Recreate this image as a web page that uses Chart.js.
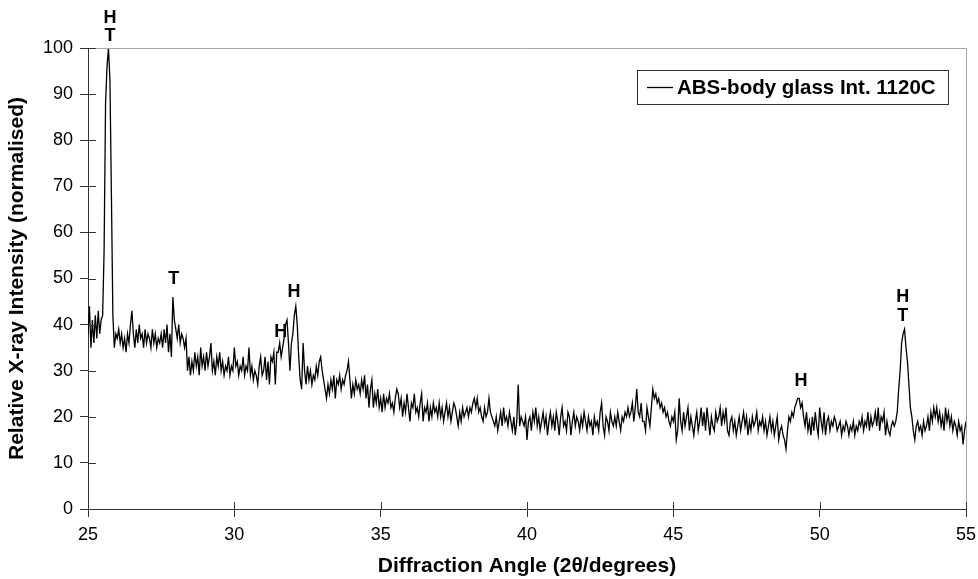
<!DOCTYPE html>
<html>
<head>
<meta charset="utf-8">
<script src="https://cdn.jsdelivr.net/npm/chart.js@4.4.1/dist/chart.umd.min.js"></script>
<style>
  html, body { margin: 0; padding: 0; background: #ffffff; }
  #wrap { width: 978px; height: 579px; }
</style>
</head>
<body>
<div id="wrap"><canvas id="c" width="978" height="579"></canvas></div>
<script>
const angleStart = 25;
const angleStep = 0.05;
const intensity25to30 = [
  38,44,35,41,36,42,37,43,38,41,42,56,88,96,100,93,68,42,35,38,
  37,39,36,38,35,37,34,38,36,40,43,38,35,39,36,40,37,38,35,39,
  36,38,37,35,39,36,38,35,37,36,38,35,39,36,40,34,38,33,46,41,
  39,37,40,36,38,37,35,37,30,33,29,32,30,34,31,33,29,35,31,33,
  30,34,31,33,36,30,32,29,33,31,34,30,32,29,31,30,33,29,31,30
];
const intensity30to35 = [
  35,31,32,29,31,30,33,29,31,30,35,29,31,28,30,29,27,31,33,29,
  30,33,28,32,27,33,32,34,27,34,34,36,33,35,37,40,41,36,30,36,
  38,42,44,40,33,28,26,36,30,27,31,28,30,27,29,28,31,29,32,33,
  30,28,26,24,27,25,28,26,29,24,28,27,29,26,28,27,29,30,32,28,
  24,27,25,28,26,27,25,28,26,29,24,27,22,26,28,22,25,23,26,22
];
const intensity35to40 = [
  24,21,25,22,24,23,25,22,23,21,24,26,25,22,24,20,23,21,25,22,
  19,23,22,25,21,22,20,23,25,19,22,21,23,19,22,20,23,21,22,20,
  23,20,22,19,21,23,20,22,19,21,23,22,20,18,21,19,22,20,21,22,
  20,22,21,23,24,22,24,21,22,20,19,22,20,21,24,21,20,19,18,20,
  17,19,21,18,22,19,20,18,21,19,17,20,16,19,27,18,20,19,18,20
];
const intensity40to45 = [
  15,19,20,17,21,19,22,18,20,17,19,21,18,20,16,19,21,18,20,17,
  21,19,16,20,22,18,19,17,21,20,16,19,21,18,20,19,17,20,18,21,
  19,17,20,18,19,16,20,18,19,17,21,23,18,16,20,19,17,21,19,18,
  20,18,21,19,17,20,19,21,20,22,20,21,23,19,22,26,21,20,23,19,
  19,17,22,20,18,22,26,24,25,23,24,22,23,21,22,20,21,19,18,20
];
const intensity45to50 = [
  19,21,15,17,24,19,17,21,18,20,22,17,20,18,16,19,21,17,19,22,
  18,21,17,22,19,16,20,18,17,21,19,20,22,18,21,19,22,17,16,19,
  20,17,19,16,18,20,17,19,21,18,20,16,19,17,20,18,19,21,17,19,
  18,20,17,19,16,18,20,17,19,16,18,20,15,17,18,16,15,13,17,20,
  19,21,20,22,23,24,24,22,23,20,18,21,17,19,16,20,17,21,18,16
];
const intensity50to55 = [
  22,19,17,21,16,19,20,17,19,18,20,19,17,18,19,16,18,17,19,18,
  16,18,17,19,16,18,17,19,18,20,17,19,18,21,17,20,18,19,21,18,
  22,17,20,19,21,16,19,17,16,18,19,18,19,21,26,30,36,38,39,35,
  32,27,22,20,17,15,18,19,17,18,16,19,17,18,20,17,21,19,22,20,
  22,19,21,18,20,17,22,19,21,18,20,17,19,18,16,19,17,18,14,17,19
];
const seriesName = 'ABS-body glass Int. 1120C';
const xTicks = [25, 30, 35, 40, 45, 50, 55];
const yTicks = [0, 10, 20, 30, 40, 50, 60, 70, 80, 90, 100];
const xTitle = 'Diffraction Angle (2\u03B8/degrees)';
const yTitle = 'Relative X-ray Intensity (normalised)';
// peak annotations
const peakLabels = ['H', 'T', 'T', 'H', 'H', 'H', 'H', 'T'];
const peakAngles = [25.75, 25.75, 27.93, 31.59, 32.04, 49.36, 52.84, 52.84];
const peakLevels = [106.5, 102.6, 49.9, 38.4, 47.1, 27.8, 46.0, 41.9];

// ---- build ----
const intensity = [].concat(intensity25to30, intensity30to35, intensity35to40,
                            intensity40to45, intensity45to50, intensity50to55);
const points = intensity.map((v, i) => ({ x: +(angleStart + i * angleStep).toFixed(2), y: v }));

const FONT = '"Liberation Sans", Arial, Helvetica, sans-serif';

const frameAndTicks = {
  id: 'frameAndTicks',
  afterDraw(chart) {
    const ctx = chart.ctx;
    const a = chart.chartArea;
    const xs = chart.scales.x, ys = chart.scales.y;
    ctx.save();
    // plot area border (top/right) in grey
    ctx.strokeStyle = '#a6a6a6';
    ctx.lineWidth = 1;
    ctx.beginPath();
    ctx.moveTo(a.left, a.top + 0.5);
    ctx.lineTo(a.right + 0.5, a.top + 0.5);
    ctx.lineTo(a.right + 0.5, a.bottom);
    ctx.stroke();
    // inner half of cross tick marks
    ctx.strokeStyle = '#333333';
    ctx.beginPath();
    yTicks.forEach(v => {
      const p = Math.round(ys.getPixelForValue(v)) + 0.5;
      ctx.moveTo(a.left, p);
      ctx.lineTo(a.left + 8, p);
    });
    xTicks.forEach(v => {
      const p = Math.round(xs.getPixelForValue(v)) + 0.5;
      ctx.moveTo(p, a.bottom);
      ctx.lineTo(p, a.bottom - 7);
    });
    ctx.stroke();
    // peak labels
    ctx.fillStyle = '#000000';
    ctx.font = 'bold 18px ' + FONT;
    ctx.textAlign = 'center';
    ctx.textBaseline = 'middle';
    peakLabels.forEach((t, i) => {
      ctx.fillText(t, xs.getPixelForValue(peakAngles[i]), ys.getPixelForValue(peakLevels[i]));
    });
    // legend box
    const bx = a.right - 329, by = a.top + 22, bw = 311, bh = 34;
    ctx.fillStyle = '#ffffff';
    ctx.fillRect(bx, by, bw, bh);
    ctx.strokeStyle = '#333333';
    ctx.lineWidth = 1;
    ctx.strokeRect(bx + 0.5, by + 0.5, bw, bh);
    const my = by + bh / 2 + 0.5;
    ctx.beginPath();
    ctx.lineWidth = 1.3;
    ctx.strokeStyle = '#000000';
    ctx.moveTo(bx + 10, my);
    ctx.lineTo(bx + 36, my);
    ctx.stroke();
    ctx.fillStyle = '#000000';
    ctx.font = 'bold 20.5px ' + FONT;
    ctx.textAlign = 'left';
    ctx.textBaseline = 'middle';
    ctx.fillText(seriesName, bx + 40, my + 1);
    ctx.restore();
  }
};

new Chart(document.getElementById('c'), {
  type: 'line',
  data: {
    datasets: [{
      label: seriesName,
      data: points,
      borderColor: '#000000',
      borderWidth: 1.3,
      pointRadius: 0,
      tension: 0,
      fill: false
    }]
  },
  options: {
    responsive: false,
    animation: false,
    devicePixelRatio: 1,
    layout: { padding: { top: 48, right: 12, left: 0, bottom: 0 } },
    plugins: { legend: { display: false }, tooltip: { enabled: false } },
    scales: {
      x: {
        type: 'linear',
        min: 25, max: 55,
        afterBuildTicks: s => { s.ticks = xTicks.map(v => ({ value: v })); },
        afterFit: s => { s.height = 70; s.paddingRight = 0; s.paddingLeft = 0; },
        grid: { drawOnChartArea: false, drawTicks: true, tickLength: 8, color: '#333333' },
        border: { display: true, color: '#333333', width: 1 },
        ticks: { color: '#000000', font: { family: FONT, size: 18 }, padding: 7, maxRotation: 0 },
        title: { display: true, text: xTitle, color: '#000000',
                 font: { family: FONT, size: 21, weight: 'bold' }, padding: { top: 0, bottom: 0 } }
      },
      y: {
        type: 'linear',
        min: 0, max: 100,
        afterBuildTicks: s => { s.ticks = yTicks.map(v => ({ value: v })); },
        afterFit: s => { s.width = 88; },
        grid: { drawOnChartArea: false, drawTicks: true, tickLength: 8, color: '#333333' },
        border: { display: true, color: '#333333', width: 1 },
        ticks: { color: '#000000', font: { family: FONT, size: 18 }, padding: 7 },
        title: { display: true, text: yTitle, color: '#000000',
                 font: { family: FONT, size: 21, weight: 'bold' }, padding: { top: 5, bottom: 0 } }
      }
    }
  },
  plugins: [frameAndTicks]
});
</script>
</body>
</html>
